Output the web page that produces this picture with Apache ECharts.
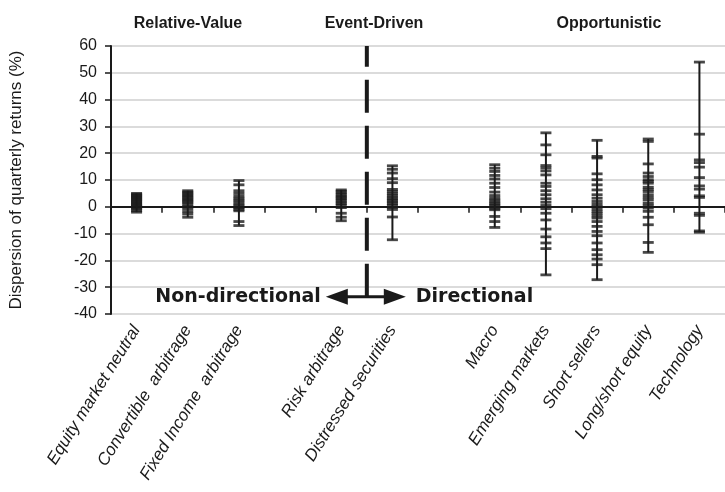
<!DOCTYPE html>
<html lang="en">
<head>
    <meta charset="utf-8">
    <title>Dispersion of quarterly returns</title>
    <script src="https://cdn.jsdelivr.net/npm/echarts@6/dist/echarts.min.js"></script>
    <style>
        html, body { margin: 0; padding: 0; background: #fff; }
        #chart { width: 725px; height: 492px; }
    </style>
</head>
<body>
<div id="chart"></div>

<script>
    // strategy names (two empty slots separate the three groups)
    var categories = ['Equity market neutral', 'Convertible  arbitrage', 'Fixed Income  arbitrage', '',
        'Risk arbitrage', 'Distressed securities', '',
        'Macro', 'Emerging markets', 'Short sellers', 'Long/short equity', 'Technology'];

    // quarterly returns (%), one list per strategy
    var equityNeutral = [5.0, 4.6, 4.2, 3.8, 3.4, 3.0, 2.6, 2.2, 1.8, 1.4, 1.0, 0.6, 0.2, -0.3, -0.8, -1.4, -2.0];
    var convertibleArb = [6.0, 5.5, 5.0, 4.5, 4.0, 3.5, 3.0, 2.5, 2.0, 1.5, 0.8, 0.0, -0.8, -1.8, -2.7, -3.9];
    var fixedIncomeArb = [9.8, 8.2, 6.0, 5.0, 4.0, 3.2, 2.5, 1.8, 1.0, 0.4, -0.3, -1.0, -1.5, -5.5, -7.0];
    var riskArb = [6.3, 5.8, 5.2, 4.6, 4.0, 3.5, 3.0, 2.4, 1.8, 1.2, 0.6, -0.3, -2.4, -3.9, -5.2];
    var distressed = [15.3, 14.0, 12.6, 10.5, 9.0, 6.5, 5.8, 5.0, 4.3, 3.6, 3.0, 2.4, 1.8, 1.2, 0.5, -0.2, -1.0, -3.8, -12.3];
    var macro = [15.7, 14.4, 13.2, 11.7, 10.4, 8.8, 7.2, 5.5, 4.2, 3.2, 2.5, 1.8, 1.2, 0.6, 0.0, -0.6, -1.1, -3.6, -5.5, -7.7];
    var emerging = [27.6, 23.1, 19.4, 15.4, 14.5, 13.4, 11.9, 8.8, 7.6, 6.0, 4.5, 3.0, 1.7, 0.5, -0.7, -2.4, -4.9, -8.3, -11.2, -13.5, -15.6, -25.4];
    var shortSellers = [24.8, 18.8, 18.2, 12.3, 10.1, 8.2, 6.3, 4.5, 3.2, 2.0, 1.0, 0.1, -0.8, -1.7, -2.5, -3.4, -4.2, -5.5, -7.3, -9.2, -10.8, -13.5, -16.0, -17.9, -19.5, -21.6, -27.2];
    var longShort = [25.3, 24.4, 16.0, 12.6, 11.3, 10.1, 9.5, 8.8, 7.3, 6.5, 5.7, 4.5, 3.5, 2.6, 1.4, 0.5, -0.5, -1.7, -3.9, -6.7, -13.3, -17.0];
    var technology = [54.0, 27.1, 17.5, 16.5, 14.8, 10.9, 7.8, 6.6, 4.1, 3.5, -2.4, -3.2, -9.0, -9.5];

    var returns = [equityNeutral, convertibleArb, fixedIncomeArb, [],
        riskArb, distressed, [],
        macro, emerging, shortSellers, longShort, technology];

    // y-axis ticks
    var yMin = -40, yMax = 60, yStep = 10;

    // divider between non-directional and directional strategies
    var dividerAfter = 4;      // line sits right of this category
    var arrowLevel = -33.6;    // value where the double arrow is drawn

    var ink = '#1a1a1a';

    var points = [];
    var ranges = [];
    returns.forEach(function (vals, i) {
        if (!vals.length) return;
        vals.forEach(function (v) { points.push([i, v]); });
        ranges.push([i, Math.min.apply(null, vals), Math.max.apply(null, vals)]);
    });

    var chart = echarts.init(document.getElementById('chart'));
    chart.setOption({
        animation: false,
        textStyle: { fontFamily: '"Liberation Sans", Arial, sans-serif' },
        grid: { left: 108, right: 0, top: 46, bottom: 178 },
        graphic: [
            { type: 'text', x: 188, y: 16, style: { text: 'Relative-Value', align: 'center', fill: ink, font: 'bold 16px "Liberation Sans", Arial' } },
            { type: 'text', x: 374, y: 16, style: { text: 'Event-Driven', align: 'center', fill: ink, font: 'bold 16px "Liberation Sans", Arial' } },
            { type: 'text', x: 609, y: 16, style: { text: 'Opportunistic', align: 'center', fill: ink, font: 'bold 16px "Liberation Sans", Arial' } }
        ],
        xAxis: [{
            type: 'category',
            data: categories,
            axisLine: { onZero: true, lineStyle: { color: ink, width: 2 } },
            axisTick: { show: true, interval: 0, length: 6, lineStyle: { color: ink, width: 1.5 } },
            axisLabel: { show: false, interval: 0 },
            splitLine: { show: false }
        }, {
            type: 'category',
            data: categories,
            position: 'bottom',
            axisLine: { show: false, onZero: false },
            axisTick: { show: false },
            axisLabel: { rotate: 58, margin: 13, fontSize: 17, fontStyle: 'italic', color: ink, interval: 0 },
            splitLine: { show: false }
        }],
        yAxis: {
            type: 'value',
            min: yMin, max: yMax, interval: yStep,
            name: 'Dispersion of quarterly returns (%)',
            nameLocation: 'middle',
            nameGap: 86,
            nameTextStyle: { fontSize: 17, color: ink },
            axisLine: { show: true, lineStyle: { color: ink, width: 2 } },
            axisTick: { show: true, length: 6, lineStyle: { color: ink, width: 1.5 } },
            axisLabel: { fontSize: 16, color: ink, margin: 14 },
            splitLine: { lineStyle: { color: '#cfcfcf', width: 1.5 } }
        },
        series: [{
            // vertical range lines
            type: 'custom',
            data: ranges,
            z: 3,
            renderItem: function (params, api) {
                var i = api.value(0);
                var lo = api.coord([i, api.value(1)]);
                var hi = api.coord([i, api.value(2)]);
                return {
                    type: 'line',
                    shape: { x1: lo[0], y1: lo[1], x2: hi[0], y2: hi[1] },
                    style: { stroke: ink, lineWidth: 2 }
                };
            }
        }, {
            // each quarterly return as a short dash
            type: 'scatter',
            data: points,
            symbol: 'rect',
            symbolSize: [11, 2.8],
            itemStyle: { color: ink },
            z: 4
        }, {
            // dashed divider and double arrow
            type: 'custom',
            data: [[dividerAfter, yMax, arrowLevel]],
            z: 5,
            clip: false,
            renderItem: function (params, api) {
                var top = api.coord([api.value(0), api.value(1)]);
                var bot = api.coord([api.value(0), api.value(2)]);
                var x = top[0] + api.size([1, 0])[0] / 2;
                var y = bot[1];
                var font = 'bold 19px "DejaVu Sans", sans-serif';
                return {
                    type: 'group',
                    children: [
                        { type: 'line', shape: { x1: x, y1: y, x2: x, y2: top[1] },
                          style: { stroke: ink, lineWidth: 4, lineDash: [33, 13] } },
                        { type: 'line', shape: { x1: x - 22, y1: y, x2: x + 20, y2: y },
                          style: { stroke: ink, lineWidth: 3 } },
                        { type: 'polygon', shape: { points: [[x - 41, y], [x - 19, y - 8], [x - 19, y + 8]] },
                          style: { fill: ink } },
                        { type: 'polygon', shape: { points: [[x + 39, y], [x + 17, y - 8], [x + 17, y + 8]] },
                          style: { fill: ink } },
                        { type: 'text', x: x - 46, y: y, style: { text: 'Non-directional', align: 'right', verticalAlign: 'middle', fill: ink, font: font } },
                        { type: 'text', x: x + 49, y: y, style: { text: 'Directional', align: 'left', verticalAlign: 'middle', fill: ink, font: font } }
                    ]
                };
            }
        }]
    });
</script>
</body>
</html>
